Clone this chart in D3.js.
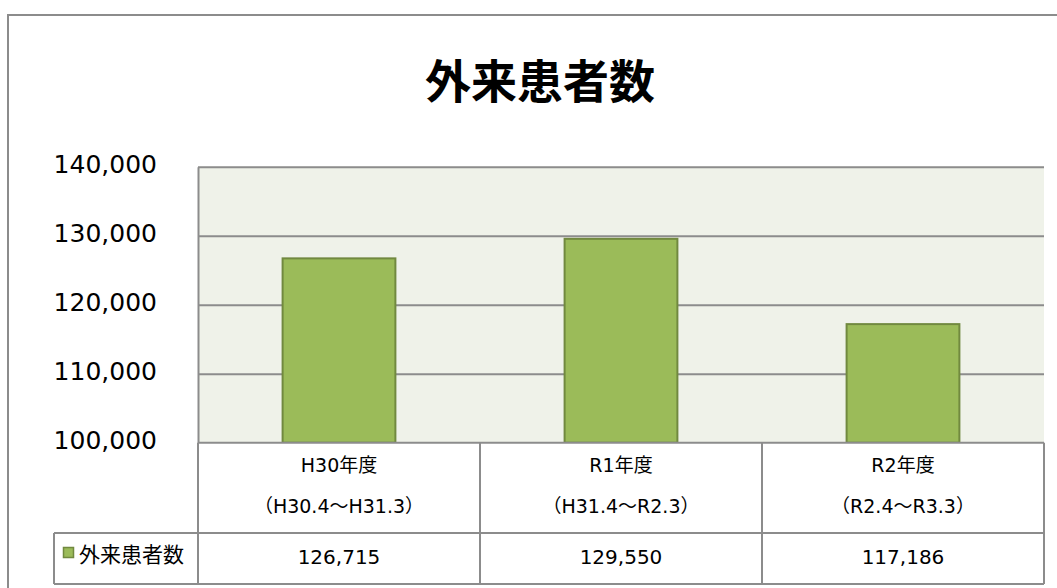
<!DOCTYPE html>
<html>
<head>
<meta charset="utf-8">
<script src="https://cdn.jsdelivr.net/npm/d3@7"></script>
<style>
  body { margin: 0; background: #fff; }
  svg text { font-family: "DejaVu Sans", "Noto Sans CJK JP", sans-serif; fill: #000; }
</style>
</head>
<body>
<div id="chart"></div>
<script>
// Data
const chartTitle = "外来患者数";
const seriesName = "外来患者数";
const categories = ["H30年度", "R1年度", "R2年度"];
const periods = ["（H30.4～H31.3）", "（H31.4～R2.3）", "（R2.4～R3.3）"];
const values = [126715, 129550, 117186];
const yTicks = [100000, 110000, 120000, 130000, 140000];

const width = 1057, height = 588;
const plot = { left: 198, right: 1044, top: 166.7, bottom: 442.7 };
const rowMid = 533, rowBottom = 584, legendLeft = 54;
const gray = "#8c8c8c";

const svg = d3.select("#chart").append("svg")
    .attr("width", width)
    .attr("height", height);

// outer chart border (runs off the right/bottom edge)
svg.append("rect")
    .attr("x", 8).attr("y", 15)
    .attr("width", 1100).attr("height", 700)
    .attr("fill", "#fff")
    .attr("stroke", gray).attr("stroke-width", 2);

// title
svg.append("text")
    .attr("x", 540).attr("y", 98)
    .attr("text-anchor", "middle")
    .style("font-size", "46px")
    .style("font-weight", "bold")
    .style("font-family", "'Noto Sans CJK JP', sans-serif")
    .text(chartTitle);

// Scales
const y = d3.scaleLinear()
    .domain([100000, 140000])
    .range([plot.bottom, plot.top]);

const col = d3.scaleBand()
    .domain(categories)
    .range([plot.left, plot.right]);

const xBar = d3.scaleBand()
    .domain(categories)
    .range([plot.left, plot.right])
    .paddingInner(0.6)
    .paddingOuter(0.3);

// plot background
svg.append("rect")
    .attr("x", plot.left).attr("y", plot.top)
    .attr("width", plot.right - plot.left)
    .attr("height", plot.bottom - plot.top)
    .attr("fill", "#eff2e9");

// Y axis with gridlines
const yAxis = svg.append("g")
    .attr("transform", `translate(${plot.left},0)`)
    .call(d3.axisLeft(y).tickValues(yTicks).tickSize(0).tickPadding(41)
      .tickFormat(d3.format(",")));
yAxis.select(".domain").attr("stroke", gray).attr("stroke-width", 2);
yAxis.selectAll(".tick text")
    .attr("dy", 6)
    .style("font-size", "25px")
    .style("font-family", "'DejaVu Sans', sans-serif");
yAxis.selectAll(".tick line")
    .attr("x2", plot.right - plot.left)
    .attr("stroke", gray)
    .attr("stroke-width", 2);

// bars
svg.selectAll(".bar")
  .data(values)
  .enter()
  .append("rect")
    .attr("class", "bar")
    .attr("x", (d, i) => xBar(categories[i]))
    .attr("y", d => y(d))
    .attr("width", xBar.bandwidth())
    .attr("height", d => y(100000) - y(d))
    .attr("fill", "#9bbb59")
    .attr("stroke", "#71893f")
    .attr("stroke-width", 2);

// data table
const table = svg.append("g");
table.append("rect")
    .attr("x", plot.left).attr("y", plot.bottom)
    .attr("width", plot.right - plot.left)
    .attr("height", rowBottom - plot.bottom)
    .attr("fill", "#fff");
table.append("rect")
    .attr("x", legendLeft).attr("y", rowMid)
    .attr("width", plot.left - legendLeft)
    .attr("height", rowBottom - rowMid)
    .attr("fill", "#fff");

const hLines = [
  [plot.left, plot.right, plot.bottom],
  [legendLeft, plot.right, rowMid],
  [legendLeft, plot.right, rowBottom]
];
table.selectAll(".hline")
  .data(hLines)
  .enter()
  .append("line")
    .attr("x1", d => d[0]).attr("x2", d => d[1])
    .attr("y1", d => d[2]).attr("y2", d => d[2])
    .attr("stroke", gray).attr("stroke-width", 2);

const vLines = categories.map(c => col(c)).concat([plot.right]);
table.selectAll(".vline")
  .data(vLines)
  .enter()
  .append("line")
    .attr("x1", d => d).attr("x2", d => d)
    .attr("y1", plot.bottom).attr("y2", rowBottom)
    .attr("stroke", gray).attr("stroke-width", 2);
table.append("line")
    .attr("x1", legendLeft).attr("x2", legendLeft)
    .attr("y1", rowMid).attr("y2", rowBottom)
    .attr("stroke", gray).attr("stroke-width", 2);

const cx = c => col(c) + col.bandwidth() / 2;

table.selectAll(".cat")
  .data(categories)
  .enter()
  .append("text")
    .attr("x", d => cx(d)).attr("y", 472)
    .attr("text-anchor", "middle")
    .style("font-size", "19px")
    .text(d => d);

table.selectAll(".period")
  .data(periods)
  .enter()
  .append("text")
    .attr("x", (d, i) => cx(categories[i])).attr("y", 513)
    .attr("text-anchor", "middle")
    .style("font-size", "19px")
    .text(d => d);

table.selectAll(".val")
  .data(values)
  .enter()
  .append("text")
    .attr("x", (d, i) => cx(categories[i])).attr("y", 564)
    .attr("text-anchor", "middle")
    .style("font-size", "20px")
    .text(d => d3.format(",")(d));

// legend key
table.append("rect")
    .attr("x", 63.5).attr("y", 547.5)
    .attr("width", 10).attr("height", 10)
    .attr("fill", "#9bbb59")
    .attr("stroke", "#71893f")
    .attr("stroke-width", 1.5);
table.append("text")
    .attr("x", 79).attr("y", 562)
    .style("font-size", "21px")
    .style("font-family", "'Noto Sans CJK JP', sans-serif")
    .text(seriesName);
</script>
</body>
</html>
